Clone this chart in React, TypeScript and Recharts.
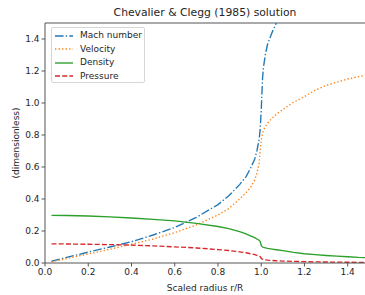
import { Label, Legend, Line, LineChart, ReferenceLine, XAxis, YAxis } from "recharts";

const radius = [
  0.03, 0.1, 0.2, 0.3, 0.4, 0.5, 0.6, 0.7, 0.8, 0.85, 0.9, 0.93, 0.95, 0.97, 0.98, 0.99, 0.995, 1.0,
  1.003, 1.006, 1.01, 1.02, 1.03, 1.05, 1.07, 1.1, 1.15, 1.2, 1.25, 1.3, 1.35, 1.4, 1.45, 1.48,
];
const mach = [
  0.011, 0.035, 0.068, 0.1, 0.133, 0.175, 0.222, 0.285, 0.365, 0.42, 0.49, 0.54, 0.59, 0.65, 0.7, 0.77, 0.83, 0.95,
  1.05, 1.15, 1.22, 1.31, 1.37, 1.44, 1.5, 1.6, 1.75, 1.88, 2.0, 2.1, 2.2, 2.3, 2.4, 2.45,
];
const velocity = [
  0.008, 0.028, 0.057, 0.086, 0.117, 0.15, 0.19, 0.238, 0.3, 0.34, 0.4, 0.44, 0.47, 0.52, 0.56, 0.62, 0.7, 0.76,
  0.79, 0.81, 0.83, 0.855, 0.875, 0.905, 0.93, 0.96, 1.005, 1.04, 1.08, 1.11, 1.13, 1.15, 1.165, 1.172,
];
const density = [
  0.298, 0.297, 0.294, 0.288, 0.281, 0.273, 0.263, 0.248, 0.228, 0.215, 0.196, 0.182, 0.17, 0.158, 0.15, 0.142,
  0.135, 0.11, 0.104, 0.1, 0.098, 0.094, 0.091, 0.087, 0.083, 0.077, 0.066, 0.058, 0.052, 0.047, 0.043, 0.039,
  0.035, 0.034,
];
const pressure = [
  0.12, 0.119, 0.117, 0.115, 0.112, 0.107, 0.101, 0.094, 0.084, 0.078, 0.07, 0.064, 0.058, 0.052, 0.048, 0.044,
  0.04, 0.03, 0.026, 0.024, 0.022, 0.02, 0.018, 0.016, 0.014, 0.012, 0.01, 0.0085, 0.0072, 0.0062, 0.0054,
  0.0047, 0.0042, 0.004,
];
const xTicks = [0, 0.2, 0.4, 0.6, 0.8, 1.0, 1.2, 1.4];
const yTicks = [0, 0.2, 0.4, 0.6, 0.8, 1.0, 1.2, 1.4];

const data = radius.map((r, i) => ({
  r,
  mach: mach[i],
  velocity: velocity[i],
  density: density[i],
  pressure: pressure[i],
}));

const font = "'DejaVu Sans', sans-serif";
const ink = "#262626";
const spine = "#555";
const lw = 1.35;

const series = [
  { key: "mach", name: "Mach number", color: "#1f77b4", dash: "8.6 2.2 1.35 2.2" },
  { key: "velocity", name: "Velocity", color: "#ff7f0e", dash: "1.35 2.2" },
  { key: "density", name: "Density", color: "#2ca02c", dash: undefined },
  { key: "pressure", name: "Pressure", color: "#d62728", dash: "5 2.2" },
];

function LegendBox() {
  return (
    <div
      style={{
        width: 94,
        height: 56,
        border: "1px solid #d6d6d6",
        borderRadius: 2,
        background: "rgba(255,255,255,0.8)",
        paddingTop: 1,
        boxSizing: "border-box",
      }}
    >
      {series.map((s) => (
        <div key={s.key} style={{ display: "flex", alignItems: "center", height: 13.5 }}>
          <svg width={18} height={6} style={{ marginLeft: 3 }}>
            <line x1={0} y1={3} x2={18} y2={3} stroke={s.color} strokeWidth={lw} strokeDasharray={s.dash} />
          </svg>
          <span style={{ marginLeft: 7, fontSize: 9, lineHeight: "11px", fontFamily: font, color: ink }}>
            {s.name}
          </span>
        </div>
      ))}
    </div>
  );
}

export default function App() {
  return (
    <div style={{ position: "fixed", left: 0, top: 0, width: 365, height: 295, background: "#fff" }}>
      <div
        style={{
          position: "absolute",
          left: 45,
          top: 6,
          width: 320,
          textAlign: "center",
          fontSize: 10.8,
          lineHeight: "14px",
          fontFamily: font,
          color: ink,
        }}
      >
        Chevalier &amp; Clegg (1985) solution
      </div>
      <LineChart width={365} height={295} data={data} margin={{ top: 23, right: 0, bottom: 0, left: 0 }}>
        <XAxis
          dataKey="r"
          type="number"
          domain={[0, 1.48]}
          allowDataOverflow
          ticks={xTicks}
          tickFormatter={(v: number) => v.toFixed(1)}
          tickSize={3.5}
          tickMargin={2}
          height={32}
          stroke={spine}
          tick={{ fill: ink, fontSize: 9, fontFamily: font }}
        >
          <Label
            value="Scaled radius r/R"
            position="insideBottom"
            offset={4}
            style={{ fill: ink, fontSize: 9, fontFamily: font }}
          />
        </XAxis>
        <YAxis
          type="number"
          domain={[0, 1.5]}
          allowDataOverflow
          ticks={yTicks}
          tickFormatter={(v: number) => v.toFixed(1)}
          tickSize={3.5}
          tickMargin={2}
          width={45}
          stroke={spine}
          tick={{ fill: ink, fontSize: 9, fontFamily: font }}
        >
          <Label
            value="(dimensionless)"
            angle={-90}
            position="insideLeft"
            offset={16}
            style={{ textAnchor: "middle", fill: ink, fontSize: 9, fontFamily: font }}
          />
        </YAxis>
        <ReferenceLine y={1.5} stroke={spine} />
        <Legend
          layout="vertical"
          align="center"
          verticalAlign="middle"
          wrapperStyle={{ position: "absolute", left: 51, top: 27, width: "auto" }}
          content={() => <LegendBox />}
        />
        {series.map((s) => (
          <Line
            key={s.key}
            dataKey={s.key}
            name={s.name}
            type="linear"
            stroke={s.color}
            strokeWidth={lw}
            strokeDasharray={s.dash}
            dot={false}
            activeDot={false}
            isAnimationActive={false}
          />
        ))}
      </LineChart>
    </div>
  );
}
